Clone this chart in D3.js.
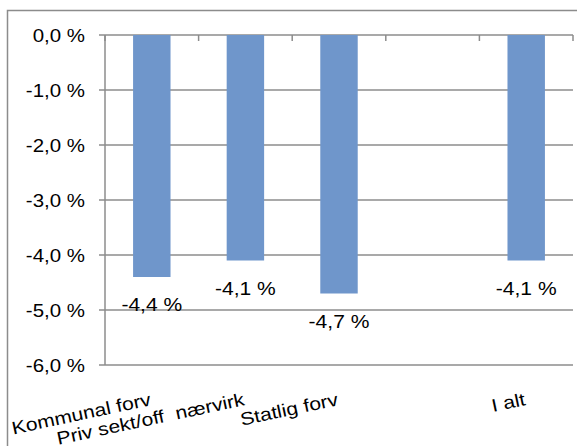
<!DOCTYPE html>
<html>
<head>
<meta charset="utf-8">
<script src="https://cdn.jsdelivr.net/npm/d3@7"></script>
<style>
  body { margin: 0; background: #fff; }
  svg { font-family: "Liberation Sans", Arial, sans-serif; }
  text { white-space: pre; }
</style>
</head>
<body>
<svg width="577" height="446"></svg>
<script>
// categories and values
const categories = ["Kommunal forv", "Priv sekt/off  nærvirk", "Statlig forv", "", "I alt"];
const values = [-4.4, -4.1, -4.7, null, -4.1];
const yTicks = [0, -1, -2, -3, -4, -5, -6];

const svg = d3.select("svg");
const margin = {left: 105, right: 4, top: 35, bottom: 81};
const width = 577, height = 446;
const stretch = 1.17; // text in the picture is a bit wider than tall
const fmt = v => d3.format(".1f")(v).replace(".", ",").replace("−", "-") + " %";

// outer frame
svg.append("rect").attr("x", 7.5).attr("y", 10.5)
  .attr("width", 600).attr("height", 500)
  .attr("fill", "none").attr("stroke", "#8c8c8c").attr("stroke-width", 1.5);

const x = d3.scaleBand().domain(d3.range(categories.length))
  .range([margin.left, width - margin.right]).paddingInner(0.6).paddingOuter(0.3);
const y = d3.scaleLinear().domain([0, -6]).range([margin.top, height - margin.bottom]);

const grid = "#8c8c8c";
// gridlines with ticks on the left
svg.append("g").selectAll("line").data(yTicks).enter().append("line")
  .attr("x1", margin.left - 6).attr("x2", width - margin.right)
  .attr("y1", d => y(d)).attr("y2", d => y(d))
  .attr("stroke", grid).attr("stroke-width", 1.5);
// left axis line
svg.append("line").attr("x1", margin.left).attr("x2", margin.left)
  .attr("y1", y(0)).attr("y2", y(-6)).attr("stroke", grid).attr("stroke-width", 1.5);
// category ticks on the zero line
const bounds = d3.range(categories.length + 1).map(i => margin.left + i * (width - margin.right - margin.left) / categories.length);
svg.append("g").selectAll("line").data(bounds).enter().append("line")
  .attr("x1", d => d).attr("x2", d => d)
  .attr("y1", y(0)).attr("y2", y(0) + 6)
  .attr("stroke", grid).attr("stroke-width", 1.5);

// y tick labels
svg.append("g").selectAll("text").data(yTicks).enter().append("text")
  .attr("transform", d => `translate(85,${y(d) + 6.5}) scale(${stretch},1)`)
  .attr("text-anchor", "end").style("font-size", "17.5px").attr("fill", "#000")
  .text(fmt);

// bars
const bars = values.map((v, i) => ({v, i})).filter(d => d.v !== null);
svg.append("g").selectAll("rect").data(bars).enter().append("rect")
  .attr("x", d => x(d.i)).attr("width", x.bandwidth())
  .attr("y", y(0)).attr("height", d => y(d.v) - y(0))
  .attr("fill", "#6f96cb");

// value labels
svg.append("g").selectAll("text").data(bars).enter().append("text")
  .attr("transform", d => `translate(${x(d.i) + x.bandwidth() / 2},${y(d.v) + 34}) scale(${stretch},1)`)
  .attr("text-anchor", "middle").style("font-size", "18px").attr("fill", "#000")
  .text(d => fmt(d.v));

// rotated category labels
svg.append("g").selectAll("text").data(categories).enter().append("text")
  .attr("transform", (d, i) => `translate(${x(i) + x.bandwidth() / 2},${y(-6) + 40}) rotate(-12) scale(${stretch},1)`)
  .attr("text-anchor", "end").style("font-size", "18px").attr("fill", "#000")
  .text(d => d);
</script>
</body>
</html>
